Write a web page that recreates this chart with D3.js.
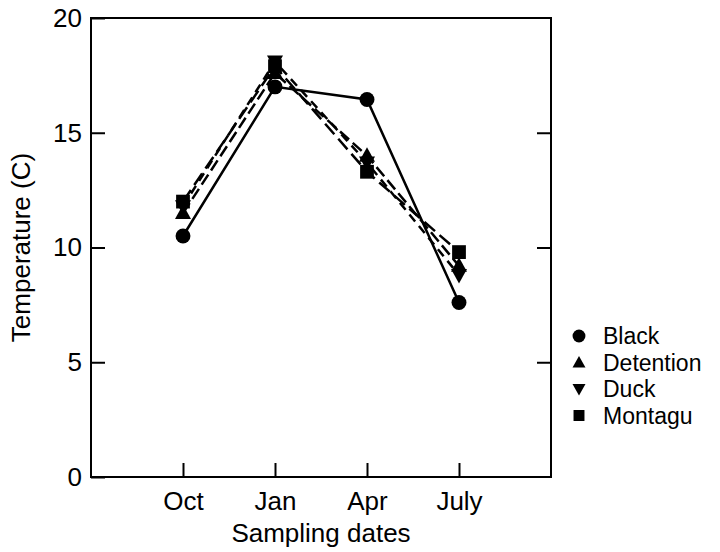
<html>
<head>
  <title>Temperature by sampling date</title>
  <script src='https://d3js.org/d3.v7.min.js'></script>
  <style>
    body { margin: 0; background: #fff; }
    text { font-family: "Liberation Sans", Arial, sans-serif; fill: #000; }
  </style>
</head>
<body>
<script>

var dates = ["Oct", "Jan", "Apr", "July"];
var yTicks = [0, 5, 10, 15, 20];

var black     = [10.5, 17.0, 16.45, 7.6];
var detention = [11.5, 17.6, 14.0, 9.2];
var duck      = [11.8, 18.1, 13.7, 8.8];
var montagu   = [12.0, 17.9, 13.3, 9.8];

var series = [
  {name: "Black",     values: black,     symbol: "circle",   dash: null},
  {name: "Detention", values: detention, symbol: "up",       dash: "12,5"},
  {name: "Duck",      values: duck,      symbol: "down",     dash: "9,6"},
  {name: "Montagu",   values: montagu,   symbol: "square",   dash: "14,6"}
];

var width = 720,
    height = 552;

var margin = {top: 18, right: 169, bottom: 75, left: 91};

var w = width - margin.left - margin.right,
    h = height - margin.top - margin.bottom;

var fs = '26px';

var x = d3.scaleLinear().domain([0, 5]).range([0, w]),
    y = d3.scaleLinear().domain([0, 20]).range([h, 0]);

var svg = d3.select('body')
            .append('svg')
            .attr('width', width)
            .attr('height', height);

var g = svg.append('g')
           .attr('transform', 'translate(' + margin.left + ',' + margin.top + ')');

// frame
g.append('rect')
 .attr('x', 0).attr('y', 0)
 .attr('width', w).attr('height', h)
 .attr('fill', 'none')
 .attr('stroke', 'black')
 .attr('stroke-width', 2);

// left axis, ticks pointing in
var yAxis = g.append('g')
  .call(d3.axisLeft(y).tickValues(yTicks).tickSizeInner(-14).tickSizeOuter(0).tickPadding(9));
yAxis.select('.domain').remove();
yAxis.selectAll('line').attr('stroke-width', 2);
yAxis.selectAll('text').style('font-size', fs).attr('font-family', null);

// right side ticks
g.append('g')
 .attr('transform', 'translate(' + w + ',0)')
 .call(d3.axisRight(y).tickValues(yTicks.slice(1, 4)).tickSize(-14).tickFormat(''))
 .call(function(a) { a.select('.domain').remove(); a.selectAll('line').attr('stroke-width', 2); });

// bottom axis
var xAxis = g.append('g')
  .attr('transform', 'translate(0,' + h + ')')
  .call(d3.axisBottom(x).tickValues([1, 2, 3, 4])
          .tickFormat(function(d) { return dates[d - 1]; })
          .tickSizeInner(-14).tickSizeOuter(0).tickPadding(15));
xAxis.select('.domain').remove();
xAxis.selectAll('line').attr('stroke-width', 2);
xAxis.selectAll('text').style('font-size', fs).attr('font-family', null);

// axis titles
g.append('text')
 .attr('x', w / 2)
 .attr('y', h + 65)
 .attr('text-anchor', 'middle')
 .style('font-size', fs)
 .text('Sampling dates');

g.append('text')
 .attr('transform', 'translate(-61,' + (h / 2) + ') rotate(-90)')
 .attr('text-anchor', 'middle')
 .style('font-size', fs)
 .text('Temperature (C)');

function symbolPath(type) {
  if (type === "circle") return d3.symbol().type(d3.symbolCircle).size(175)();
  if (type === "square") return d3.symbol().type(d3.symbolSquare).size(190)();
  if (type === "up") return "M0,-8.5L8,6L-8,6Z";
  return "M0,8.5L8,-6L-8,-6Z";
}

var line = d3.line()
  .x(function(d, i) { return x(i + 1); })
  .y(function(d) { return y(d); });

series.forEach(function(s) {
  g.append('path')
   .datum(s.values)
   .attr('d', line)
   .attr('fill', 'none')
   .attr('stroke', 'black')
   .attr('stroke-width', 2.5)
   .attr('stroke-dasharray', s.dash);
});

series.forEach(function(s) {
  g.selectAll(null)
   .data(s.values)
   .enter()
   .append('path')
   .attr('d', symbolPath(s.symbol))
   .attr('transform', function(d, i) { return 'translate(' + x(i + 1) + ',' + y(d) + ')'; })
   .attr('fill', 'black');
});

// legend
var legend = svg.append('g')
  .attr('transform', 'translate(579,336)');

var item = legend.selectAll('g')
  .data(series)
  .enter().append('g')
  .attr('transform', function(d, i) { return 'translate(0,' + (i * 26.5) + ')'; });

item.append('path')
  .attr('d', function(d) {
    if (d.symbol === "circle") return d3.symbol().type(d3.symbolCircle).size(130)();
    if (d.symbol === "square") return d3.symbol().type(d3.symbolSquare).size(120)();
    if (d.symbol === "up") return "M0,-6.5L6.5,5L-6.5,5Z";
    return "M0,6.5L6.5,-5L-6.5,-5Z";
  })
  .attr('fill', 'black');

item.append('text')
  .attr('x', 24)
  .attr('dy', '0.35em')
  .style('font-size', '23px')
  .text(function(d) { return d.name; });

</script>
</body>
</html>
